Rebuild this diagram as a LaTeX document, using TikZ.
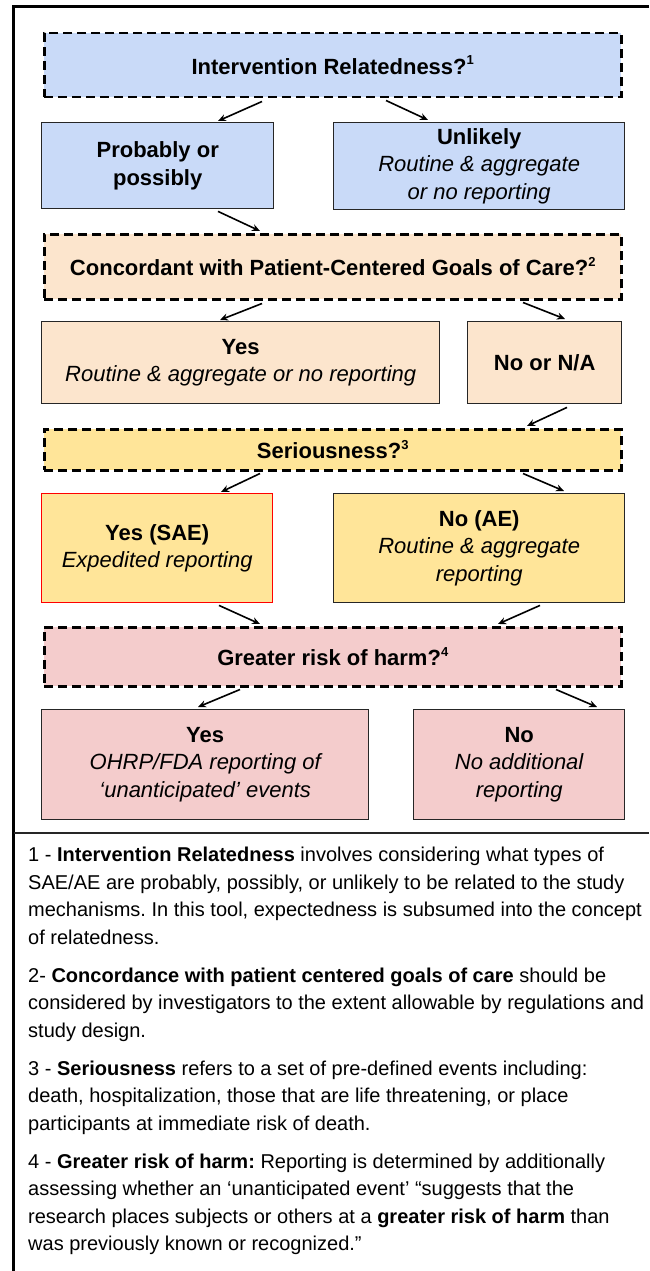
\documentclass[tikz,border=0pt]{standalone}
\usepackage{fontspec}
\setmainfont{Liberation Sans}
\usetikzlibrary{arrows.meta}
\definecolor{relblue}{HTML}{C9DAF8}
\definecolor{goalorange}{HTML}{FCE5CD}
\definecolor{seryellow}{HTML}{FFE599}
\definecolor{harmpink}{HTML}{F4CCCC}
\newcommand\flowfont{\fontsize{22}{27.5}\selectfont}
\newcommand\notefont{\fontsize{20}{27.5}\selectfont}
\newcommand\fnmark[1]{\raisebox{0.42em}{\fontsize{13}{13}\selectfont #1}}
\frenchspacing
\begin{document}
\begin{tikzpicture}[x=1pt,y=-1pt,
  question/.style={draw=black, line width=2.5pt, dash pattern=on 9pt off 5pt,
    anchor=north west, inner sep=0pt, align=center, font=\flowfont\bfseries,
    minimum width=577pt},
  answer/.style={draw=black!85, line width=1.4pt, anchor=north west,
    inner sep=0pt, align=center, font=\flowfont},
  link/.style={line width=1.6pt, -{Stealth[length=8pt,width=7pt]}}]
\useasboundingbox (0,0) rectangle (649,1271);

% frame and divider
\draw[line width=2.3pt] (649,6.5) -- (13.5,6.5) -- (13.5,1271);
\draw[line width=1.5pt, black!85] (13.5,833) -- (649,833);

% level 1 : relatedness
\node[question, fill=relblue, minimum height=64pt] (q1) at (43,32) {Intervention Relatedness?\fnmark{1}};
\node[answer, fill=relblue, minimum width=232pt, minimum height=86pt] (a11) at (41,122) {\bfseries Probably or\\ \bfseries possibly};
\node[answer, fill=relblue, minimum width=291pt, minimum height=87pt] (a12) at (333,122) {\textbf{Unlikely}\\ \itshape Routine \& aggregate\\ \itshape or no reporting};

% level 2 : goals of care
\node[question, fill=goalorange, minimum height=65pt] (q2) at (43,233) {Concordant with Patient-Centered Goals of Care?\fnmark{2}};
\node[answer, fill=goalorange, minimum width=398pt, minimum height=82pt] (a21) at (41,321) {\textbf{Yes}\\ \itshape Routine \& aggregate or no reporting};
\node[answer, fill=goalorange, minimum width=154pt, minimum height=82pt] (a22) at (467,321) {\bfseries No or N/A};

% level 3 : seriousness
\node[question, fill=seryellow, minimum height=41pt] (q3) at (43,428) {Seriousness?\fnmark{3}};
\node[answer, draw=red, fill=seryellow, minimum width=231pt, minimum height=109pt] (a31) at (41,493) {\textbf{Yes (SAE)}\\ \itshape Expedited reporting};
\node[answer, fill=seryellow, minimum width=291pt, minimum height=109pt] (a32) at (333,493) {\textbf{No (AE)}\\ \itshape Routine \& aggregate\\ \itshape reporting};

% level 4 : harm
\node[question, fill=harmpink, minimum height=59pt] (q4) at (43,626) {Greater risk of harm?\fnmark{4}};
\node[answer, fill=harmpink, minimum width=327pt, minimum height=110pt] (a41) at (41,709) {\textbf{Yes}\\ \itshape OHRP/FDA reporting of\\ \itshape ‘unanticipated’ events};
\node[answer, fill=harmpink, minimum width=211pt, minimum height=110pt] (a42) at (413,709) {\textbf{No}\\ \itshape No additional\\ \itshape reporting};

% arrows
\draw[link] ([xshift=219pt,yshift=-3pt]q1.south west) -- ([xshift=177pt,yshift=1pt]a11.north west);
\draw[link] ([xshift=343pt,yshift=-2pt]q1.south west) -- ([xshift=95pt,yshift=2pt]a12.north west);
\draw[link] ([xshift=177pt,yshift=-2pt]a11.south west) -- ([xshift=217pt,yshift=2pt]q2.north west);
\draw[link] ([xshift=219pt,yshift=-3pt]q2.south west) -- ([xshift=179pt,yshift=1pt]a21.north west);
\draw[link] ([xshift=480pt,yshift=-2pt]q2.south west) -- ([xshift=98pt,yshift=2pt]a22.north west);
\draw[link] ([xshift=100pt,yshift=-3pt]a22.south west) -- ([xshift=484pt,yshift=2pt]q3.north west);
\draw[link] ([xshift=217pt,yshift=-2pt]q3.south west) -- ([xshift=180pt,yshift=1pt]a31.north west);
\draw[link] ([xshift=480pt,yshift=-2pt]q3.south west) -- ([xshift=231pt,yshift=2pt]a32.north west);
\draw[link] ([xshift=178pt,yshift=-2pt]a31.south west) -- ([xshift=217pt,yshift=2pt]q4.north west);
\draw[link] ([xshift=207pt,yshift=-2pt]a32.south west) -- ([xshift=455pt,yshift=2pt]q4.north west);
\draw[link] ([xshift=197pt,yshift=-2pt]q4.south west) -- ([xshift=157pt,yshift=2pt]a41.north west);
\draw[link] ([xshift=513pt,yshift=-2pt]q4.south west) -- ([xshift=184pt,yshift=2pt]a42.north west);

% footnotes
\node[anchor=north west, inner sep=0pt, align=left, font=\notefont] (notes) at (28,847) {%
1 - \textbf{Intervention Relatedness} involves considering what types of\\
SAE/AE are probably, possibly, or unlikely to be related to the study\\
mechanisms. In this tool, expectedness is subsumed into the concept\\
of relatedness.\\[10.5pt]
2- \textbf{Concordance with patient centered goals of care} should be\\
considered by investigators to the extent allowable by regulations and\\
study design.\\[10.5pt]
3 - \textbf{Seriousness} refers to a set of pre-defined events including:\\
death, hospitalization, those that are life threatening, or place\\
participants at immediate risk of death.\\[10.5pt]
4 - \textbf{Greater risk of harm:} Reporting is determined by additionally\\
assessing whether an ‘unanticipated event’ “suggests that the\\
research places subjects or others at a \textbf{greater risk of harm} than\\
was previously known or recognized.”};
\end{tikzpicture}
\end{document}
